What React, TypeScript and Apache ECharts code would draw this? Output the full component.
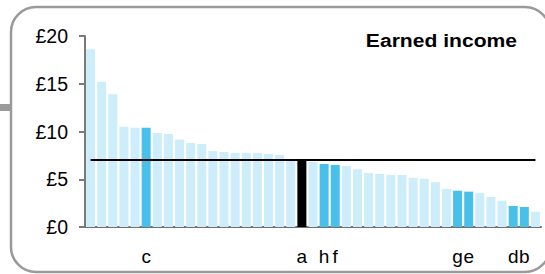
import React, { useEffect, useRef } from "react";
import * as echarts from "echarts";

// Area labels (only the highlighted areas are named on the chart)
const categories = [
  "", "", "", "", "", "c", "", "", "", "", "",
  "", "", "", "", "", "", "", "", "a", "",
  "h", "f", "", "", "", "", "", "", "", "",
  "", "", "g", "e", "", "", "", "d", "b", "",
];

// Earned income per area (£), sorted descending
const values = [
  18.6, 15.2, 13.9, 10.5, 10.4, 10.4, 9.85, 9.75, 9.15, 8.8, 8.7,
  7.95, 7.85, 7.75, 7.75, 7.75, 7.65, 7.55, 7.1, 7.0, 6.8,
  6.6, 6.5, 6.4, 6.05, 5.65, 5.55, 5.45, 5.45, 5.15, 5.05,
  4.7, 4.0, 3.8, 3.7, 3.55, 3.15, 2.75, 2.2, 2.1, 1.6,
];

const highlighted = ["c", "h", "f", "g", "e", "d", "b"];
const averageArea = "a";
const averageValue = 7.0;

const yTicks = [0, 5, 10, 15, 20];

const LIGHT = "#ccedf9";
const HIGHLIGHT = "#48c0ea";
const BLACK = "#000000";

export default function App() {
  const ref = useRef<HTMLDivElement>(null);

  useEffect(() => {
    if (!ref.current) return;
    const chart = echarts.init(ref.current, undefined, { renderer: "svg" });

    const data = values.map((v, i) => {
      const name = categories[i];
      let color = LIGHT;
      if (name === averageArea) color = BLACK;
      else if (highlighted.includes(name)) color = HIGHLIGHT;
      return { value: v, itemStyle: { color } };
    });

    chart.setOption({
      animation: false,
      textStyle: { fontFamily: "Liberation Sans, Arial, sans-serif" },
      grid: { left: 85, right: 4, top: 36, bottom: 47, containLabel: false },
      graphic: [
        {
          type: "rect",
          z: -10,
          silent: true,
          shape: { x: 11, y: 7, width: 539, height: 265, r: 25 },
          style: { fill: "#ffffff", stroke: "#9a9a9a", lineWidth: 2.5 },
        },
        {
          type: "rect",
          z: -9,
          silent: true,
          shape: { x: 0, y: 104, width: 11, height: 7 },
          style: { fill: "#9a9a9a" },
        },
        {
          type: "text",
          x: 517,
          y: 40,
          scaleX: 1.14,
          z: 10,
          style: {
            text: "Earned income",
            fill: "#000",
            font: "bold 18.5px 'Liberation Sans', Arial, sans-serif",
            textAlign: "right",
            textVerticalAlign: "middle",
          },
        },
      ],
      xAxis: {
        type: "category",
        data: categories,
        axisTick: { show: false },
        axisLine: { show: true, lineStyle: { color: "#707070", width: 2 } },
        axisLabel: {
          interval: 0,
          margin: 20,
          fontSize: 19,
          color: "#000",
          fontFamily: "Liberation Sans, Arial, sans-serif",
        },
        splitLine: { show: false },
      },
      yAxis: {
        type: "value",
        min: yTicks[0],
        max: yTicks[yTicks.length - 1],
        interval: 5,
        axisLine: { show: true, lineStyle: { color: "#7a7a7a", width: 2 } },
        axisTick: { show: true, length: 6, lineStyle: { color: "#7a7a7a", width: 2 } },
        axisLabel: {
          margin: 17,
          fontSize: 19.5,
          color: "#000",
          fontFamily: "Liberation Sans, Arial, sans-serif",
          formatter: "£{value}",
        },
        splitLine: { show: false },
      },
      series: [
        {
          type: "bar",
          data,
          barCategoryGap: "19%",
          silent: true,
          markLine: {
            silent: true,
            symbol: ["none", "none"],
            label: { show: false },
            lineStyle: { color: "#000", width: 2, type: "solid" },
            data: [
              [
                { coord: [0, averageValue] },
                { coord: [values.length - 1, averageValue] },
              ],
            ],
          },
        },
      ],
    });

    return () => chart.dispose();
  }, []);

  return (
    <div
      ref={ref}
      style={{ position: "absolute", left: 0, top: 0, width: 545, height: 274 }}
    />
  );
}
